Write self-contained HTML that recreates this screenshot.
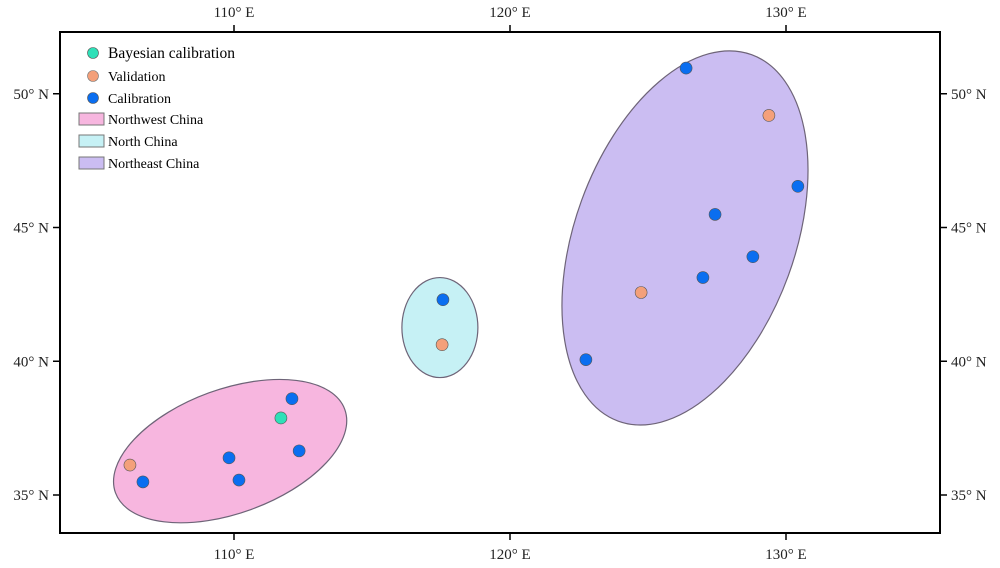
<!DOCTYPE html>
<html><head><meta charset="utf-8"><style>
html,body{margin:0;padding:0;background:#fff}
svg{display:block;font-family:"Liberation Serif",serif}
</style></head><body>
<svg id="chart" width="1000" height="568" viewBox="0 0 1000 568">
<g id="regions"></g>
<g id="points"></g>
<rect x="60" y="32" width="880" height="501" fill="none" stroke="#000" stroke-width="2"/>
<g id="axes"></g>
<g id="legend" font-size="14">
 <circle cx="93" cy="53" r="5.5" fill="#2ee0b8" stroke="#555" stroke-width="0.6"/>
 <text x="108" y="58" font-size="15.5">Bayesian calibration</text>
 <circle cx="93" cy="76" r="5.5" fill="#f4a07a" stroke="#777" stroke-width="0.6"/>
 <text x="108" y="81">Validation</text>
 <circle cx="93" cy="98" r="5.5" fill="#0a6ef0" stroke="#555" stroke-width="0.6"/>
 <text x="108" y="103">Calibration</text>
 <rect x="79" y="113" width="25" height="12" fill="#f7b6df" stroke="#777"/>
 <text x="108" y="124">Northwest China</text>
 <rect x="79" y="135" width="25" height="12" fill="#c6f1f5" stroke="#777"/>
 <text x="108" y="146">North China</text>
 <rect x="79" y="157" width="25" height="12" fill="#cbbdf2" stroke="#777"/>
 <text x="108" y="168">Northeast China</text>
</g>
</svg>
<script>
const xTicks=[110,120,130];
const yTicks=[35,40,45,50];
const regionNames=['northwest','north','northeast'];
const regionCx=[109.86,117.46,126.34];
const regionCy=[36.64,41.26,44.61];
const calLon=[106.70,109.82,110.18,112.10,112.36,117.57,126.38,130.43,127.43,128.80,126.99,122.75];
const calLat=[35.49,36.39,35.56,38.60,36.65,42.30,50.96,46.54,45.49,43.91,43.13,40.06];
const valLon=[106.23,117.54,129.38,124.75];
const valLat=[36.12,40.62,49.19,42.57];
const bayLon=[111.70];
const bayLat=[37.88];
const NS='http://www.w3.org/2000/svg';
const X=v=>234+(v-110)*27.6;
const Y=v=>495-(v-35)*26.75;
function mk(t,a,p){const e=document.createElementNS(NS,t);for(const k in a)e.setAttribute(k,a[k]);p.appendChild(e);return e;}
const axes=document.getElementById('axes');
xTicks.forEach(t=>{
 const l1=mk('line',{x1:X(t),x2:X(t),y1:533,y2:540,stroke:'#000','stroke-width':1.5},axes);
 
 
 const l2=mk('line',{x1:X(t),x2:X(t),y1:25,y2:32,stroke:'#000','stroke-width':1.5},axes);
 
 
 const t1=mk('text',{x:X(t),y:559,'text-anchor':'middle','font-size':15,fill:'#222'},axes);t1.textContent=t+'° E';
 
 
 const t2=mk('text',{x:X(t),y:17,'text-anchor':'middle','font-size':15,fill:'#222'},axes);t2.textContent=t+'° E';
 
 
});
yTicks.forEach(t=>{
 const l1=mk('line',{x1:53,x2:60,y1:Y(t),y2:Y(t),stroke:'#000','stroke-width':1.5},axes);
 
 
 const l2=mk('line',{x1:940,x2:947,y1:Y(t),y2:Y(t),stroke:'#000','stroke-width':1.5},axes);
 
 
 const t1=mk('text',{x:49,y:Y(t)+5,'text-anchor':'end','font-size':15,fill:'#222'},axes);t1.textContent=t+'° N';
 
 
 const t2=mk('text',{x:951,y:Y(t)+5,'text-anchor':'start','font-size':15,fill:'#222'},axes);t2.textContent=t+'° N';
 
 
});
const rg=document.getElementById('regions');
const rStyle=[{rx:122,ry:62,rot:-20,fill:'#f7b6df'},{rx:38,ry:50,rot:0,fill:'#c6f1f5'},{rx:110,ry:195,rot:20,fill:'#cbbdf2'}];
regionNames.forEach((n,i)=>{
 const cx=X(regionCx[i]),cy=Y(regionCy[i]),s=rStyle[i];
 const e=mk('ellipse',{cx:cx,cy:cy,rx:s.rx,ry:s.ry,transform:`rotate(${s.rot} ${cx} ${cy})`,fill:s.fill,stroke:'#6e6478','stroke-width':1.2},rg);
 
 
});
const pg=document.getElementById('points');
function pts(lon,lat,fill,name){lon.forEach((v,i)=>{
 const c=mk('circle',{cx:X(v),cy:Y(lat[i]),r:6,fill:fill,stroke:'#555','stroke-width':0.6},pg);
 
 
});}
pts(calLon,calLat,'#0a6ef0','calibration-point');
pts(valLon,valLat,'#f4a07a','validation-point');
pts(bayLon,bayLat,'#2ee0b8','bayesian-point');
</script>
</body></html>
